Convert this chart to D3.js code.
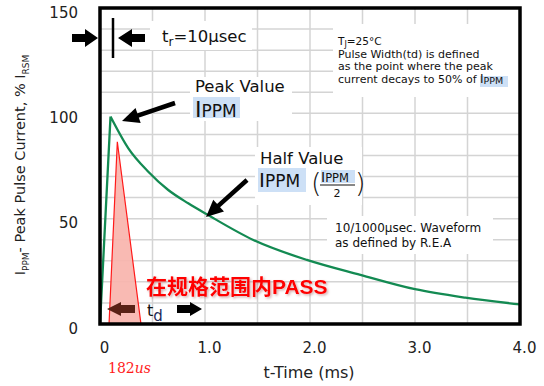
<!DOCTYPE html>
<html><head><meta charset="utf-8">
<script src="https://cdn.jsdelivr.net/npm/d3@7"></script>
<style>body{margin:0;background:#fff}svg{display:block}</style>
</head><body>
<svg id="c" width="544" height="386"></svg>
<script>
// ---- data ----
const timeMs     = [0, 0.10, 0.27, 0.46, 0.65, 0.84, 1.03, 1.46, 1.97, 2.48, 3.00, 3.48, 4.00];
const currentPct = [0, 98.5, 83.4, 72.3, 63.6, 57.3, 51.7, 39.9, 30.4, 23.3, 16.5, 12.5, 9.3];
const markerTimeMs = [0.086, 0.165, 0.39];
const markerPct    = [0, 86.5, 0];
const xTicks = [0, 1, 2, 3, 4];
const xTickLabels = ["0", "1.0", "2.0", "3.0", "4.0"];
const yTicks = [0, 50, 100, 150];
const yTickLabels = ["0", "50", "100", "150"];

const svg = d3.select("#c");
const FONT = "'DejaVu Sans', sans-serif";
const x = d3.scaleLinear().domain([0, 4]).range([100, 520]);
const y = d3.scaleLinear().domain([0, 150]).range([324, 8]);

// filter for red text shadow
const defs = svg.append("defs");
defs.append("filter").attr("id", "sh").attr("x", "-10%").attr("y", "-20%").attr("width", "130%").attr("height", "150%")
  .append("feDropShadow").attr("dx", 1.5).attr("dy", 1.5).attr("stdDeviation", 0.8)
  .attr("flood-color", "#a05050").attr("flood-opacity", 0.45);

// ---- grid ----
const grid = svg.append("g").attr("stroke", "#d4d4d4").attr("stroke-width", 1.5);
grid.selectAll("line.v").data(d3.range(0.5, 4, 0.5)).join("line").attr("class", "v")
  .attr("x1", d => x(d)).attr("x2", d => x(d)).attr("y1", y(150)).attr("y2", y(0));
grid.selectAll("line.h").data(d3.range(10, 150, 10)).join("line").attr("class", "h")
  .attr("y1", d => y(d)).attr("y2", d => y(d)).attr("x1", x(0)).attr("x2", x(4));

// white boxes behind annotation texts
const boxes = [[150, 21, 102, 29], [190, 77, 102, 44], [255, 147, 107, 58], [333, 24, 186, 73], [327, 216, 166, 38]];
svg.append("g").selectAll("rect").data(boxes).join("rect")
  .attr("x", d => d[0]).attr("y", d => d[1]).attr("width", d => d[2]).attr("height", d => d[3]).attr("fill", "#fff");

// ---- red marker triangle ----
const tri = markerTimeMs.map((t, i) => [x(t), y(markerPct[i])]);
svg.append("path").attr("d", "M" + tri.join("L") + "Z")
  .attr("fill", "#f8b4ad").attr("fill-opacity", 0.92).attr("stroke", "#ff1a1a").attr("stroke-width", 1.2);

// ---- waveform ----
const pts = timeMs.map((t, i) => [t, currentPct[i]]);
const iPk = d3.maxIndex(currentPct);
const lineLin = d3.line().x(d => x(d[0])).y(d => y(d[1]));
const lineMono = d3.line().x(d => x(d[0])).y(d => y(d[1])).curve(d3.curveMonotoneX);
svg.append("path").attr("d", lineLin(pts.slice(0, iPk + 1)) + lineMono(pts.slice(iPk)).replace(/^M[^A-Za-z]*/, "L" + x(pts[iPk][0]) + "," + y(pts[iPk][1])))
  .attr("fill", "none").attr("stroke", "#138a52").attr("stroke-width", 2.3).attr("stroke-linejoin", "miter");

// ---- frame ----
svg.append("rect").attr("x", x(0)).attr("y", y(150)).attr("width", x(4) - x(0)).attr("height", y(0) - y(150))
  .attr("fill", "none").attr("stroke", "#000").attr("stroke-width", 3.5);

// ---- axes ----
const xa = svg.append("g").attr("transform", `translate(0,${y(0)})`)
  .call(d3.axisBottom(x).tickValues(xTicks).tickFormat((d, i) => xTickLabels[i]).tickSize(0).tickPadding(18));
xa.select(".domain").remove();
xa.attr("font-family", FONT).attr("font-size", 15);
xa.selectAll("text").attr("dx", 4).attr("fill", "#222");

const ya = svg.append("g").attr("transform", `translate(${x(0)},0)`)
  .call(d3.axisLeft(y).tickValues(yTicks).tickFormat((d, i) => yTickLabels[i]).tickSize(0).tickPadding(22));
ya.select(".domain").remove();
ya.attr("font-family", FONT).attr("font-size", 15);
ya.selectAll("text").attr("dy", "0.62em").attr("fill", "#222");

// axis titles
svg.append("text").attr("x", 309).attr("y", 378).attr("text-anchor", "middle")
  .attr("font-family", FONT).attr("font-size", 16).attr("fill", "#222").text("t-Time (ms)");
const yt = svg.append("text").attr("transform", "translate(25,165) rotate(-90)").attr("text-anchor", "middle")
  .attr("font-family", FONT).attr("font-size", 14.5).attr("fill", "#222");
yt.append("tspan").text("I");
yt.append("tspan").attr("font-size", 9).attr("dy", 4).text("PPM");
yt.append("tspan").attr("dy", -4).text("- Peak Pulse Current, % I");
yt.append("tspan").attr("font-size", 9).attr("dy", 4).text("RSM");

// ---- arrows ----
function blockArrow(xTail, xTip, yc, headLen, headHalf, shaftHalf, color) {
  const s = Math.sign(xTip - xTail), hb = xTip - s * headLen;
  const p = [[xTail, yc - shaftHalf], [hb, yc - shaftHalf], [hb, yc - headHalf], [xTip, yc], [hb, yc + headHalf], [hb, yc + shaftHalf], [xTail, yc + shaftHalf]];
  svg.append("path").attr("d", "M" + p.join("L") + "Z").attr("fill", color);
}
function lineArrow(x1, y1, x2, y2, headLen, headW, lw) {
  const dx = x2 - x1, dy = y2 - y1, L = Math.hypot(dx, dy), ux = dx / L, uy = dy / L;
  const bx = x2 - ux * headLen, by = y2 - uy * headLen;
  svg.append("line").attr("x1", x1).attr("y1", y1).attr("x2", bx + ux * 2).attr("y2", by + uy * 2)
    .attr("stroke", "#000").attr("stroke-width", lw);
  const p = [[x2, y2], [bx - uy * headW / 2, by + ux * headW / 2], [bx + uy * headW / 2, by - ux * headW / 2]];
  svg.append("path").attr("d", "M" + p.join("L") + "Z").attr("fill", "#000");
}
blockArrow(72, 98, 38, 13, 9, 4, "#000");
blockArrow(145, 118, 38, 14, 9, 4, "#000");
svg.append("line").attr("x1", 113).attr("x2", 113).attr("y1", 18).attr("y2", 58).attr("stroke", "#000").attr("stroke-width", 2.5);
blockArrow(135, 107, 309, 14, 7, 4, "#5a2216");
blockArrow(177, 202, 309, 12, 7, 4, "#000");
lineArrow(175, 103, 122, 121, 17, 16, 4.5);
lineArrow(247, 180, 206, 217, 17, 16, 4.5);

// ---- texts ----
function txt(xp, yp, size, str, color) {
  return svg.append("text").attr("x", xp).attr("y", yp).attr("font-family", FONT).attr("font-size", size).attr("fill", color || "#111").text(str);
}
// t_r = 10µsec
const tr = svg.append("text").attr("x", 162).attr("y", 42).attr("font-family", FONT).attr("font-size", 16.5).attr("fill", "#111");
tr.append("tspan").text("t");
tr.append("tspan").attr("font-size", 12).attr("dy", 4).text("r");
tr.append("tspan").attr("dy", -4).text("=10µsec");

// Peak Value
txt(195, 92, 16.5, "Peak Value");
svg.append("rect").attr("x", 193).attr("y", 97).attr("width", 47).attr("height", 21).attr("fill", "#cde0f6");
const pk = svg.append("text").attr("x", 195).attr("y", 117).attr("font-family", FONT).attr("fill", "#111");
pk.append("tspan").attr("font-size", 22).text("I");
pk.append("tspan").attr("font-size", 17).text("PPM");

// Half Value
txt(260, 164, 16.5, "Half Value");
svg.append("rect").attr("x", 258).attr("y", 168).attr("width", 48).attr("height", 24).attr("fill", "#cde0f6");
const hv = svg.append("text").attr("x", 259).attr("y", 187).attr("font-family", FONT).attr("fill", "#111");
hv.append("tspan").attr("font-size", 20).text("I");
hv.append("tspan").attr("font-size", 17).text("PPM");
txt(311, 192, 27, "(").attr("font-weight", 300);
txt(355, 192, 27, ")").attr("font-weight", 300);
svg.append("rect").attr("x", 321).attr("y", 170).attr("width", 34).attr("height", 13).attr("fill", "#cde0f6");
const hn = svg.append("text").attr("x", 321).attr("y", 182).attr("font-family", FONT).attr("fill", "#111");
hn.append("tspan").attr("font-size", 14).text("I");
hn.append("tspan").attr("font-size", 11.5).text("PPM");
svg.append("line").attr("x1", 320).attr("x2", 355).attr("y1", 185).attr("y2", 185).attr("stroke", "#111").attr("stroke-width", 1);
txt(337, 197, 11, "2").attr("text-anchor", "middle");

// note block
const tj = svg.append("text").attr("x", 338).attr("y", 45).attr("font-family", FONT).attr("font-size", 10.5).attr("fill", "#111");
tj.append("tspan").text("T");
tj.append("tspan").attr("font-size", 8).attr("dy", 2).text("J");
tj.append("tspan").attr("dy", -2).text("=25°C");
txt(338, 57.5, 11, "Pulse Width(td) is defined");
txt(338, 70, 11, "as the point where the peak");
svg.append("rect").attr("x", 480).attr("y", 76).attr("width", 28).attr("height", 11).attr("fill", "#cde0f6");
const cd = svg.append("text").attr("x", 338).attr("y", 82.5).attr("font-family", FONT).attr("font-size", 11).attr("fill", "#111");
cd.append("tspan").text("current decays to 50% of ");
cd.append("tspan").attr("font-size", 12).text("I");
cd.append("tspan").attr("font-size", 9.5).attr("dy", 1.5).text("PPM");

txt(335, 232, 12, "10/1000µsec. Waveform");
txt(335, 247, 12, "as defined by R.E.A");

// red PASS text
const pass = svg.append("text").attr("x", 146).attr("y", 294).attr("fill", "#ff0000").attr("font-weight", "bold")
  .attr("font-size", 21).attr("filter", "url(#sh)");
pass.append("tspan").attr("font-family", "'Noto Sans CJK SC', sans-serif").text("在规格范围内");
pass.append("tspan").attr("font-family", "'Liberation Sans', Arial, sans-serif").text("PASS");

// t_d
const td = svg.append("text").attr("x", 147).attr("y", 316).attr("font-family", FONT).attr("fill", "#111");
td.append("tspan").attr("font-size", 16).text("t");
td.append("tspan").attr("font-size", 15).attr("dy", 5).attr("fill", "#1e2a5a").text("d");

// 182us
const us = svg.append("text").attr("x", 108).attr("y", 373).attr("font-family", "'DejaVu Serif', serif").attr("font-size", 14).attr("fill", "#ff1a1a");
us.append("tspan").text("182");
us.append("tspan").attr("font-style", "italic").text("us");
</script>
</body></html>
